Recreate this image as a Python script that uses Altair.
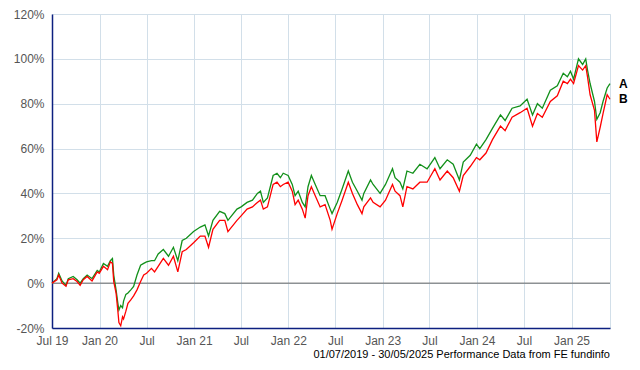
import altair as alt
import pandas as pd

# ---- data ----
dates = [
    "2019-07-01", "2019-07-20", "2019-07-27", "2019-08-09", "2019-08-24", "2019-09-02", "2019-09-21",
    "2019-10-06", "2019-10-18", "2019-10-30", "2019-11-14", "2019-12-03", "2019-12-23", "2019-12-31",
    "2020-01-16", "2020-02-01", "2020-02-12", "2020-02-20", "2020-02-25", "2020-03-05", "2020-03-12",
    "2020-03-16", "2020-03-23", "2020-03-30", "2020-04-03", "2020-04-12", "2020-04-20", "2020-05-01",
    "2020-05-12", "2020-05-25", "2020-06-08", "2020-06-20", "2020-07-01", "2020-07-20", "2020-08-01",
    "2020-08-15", "2020-09-04", "2020-09-24", "2020-10-13", "2020-10-30", "2020-11-16", "2020-12-02",
    "2020-12-30",
    "2021-01-25", "2021-02-12", "2021-02-26", "2021-03-15", "2021-04-10", "2021-04-30", "2021-05-12",
    "2021-06-16", "2021-07-02", "2021-07-25", "2021-08-15", "2021-09-03", "2021-09-15", "2021-09-26",
    "2021-10-12", "2021-11-03", "2021-11-18", "2021-12-01", "2021-12-12", "2021-12-31",
    "2022-01-16", "2022-01-27", "2022-02-08", "2022-02-24", "2022-03-07", "2022-03-18", "2022-03-31",
    "2022-04-15", "2022-05-04", "2022-05-23", "2022-06-12", "2022-06-19", "2022-07-09", "2022-07-28",
    "2022-08-21", "2022-09-06", "2022-09-25", "2022-10-13", "2022-10-20", "2022-11-15", "2022-11-25",
    "2022-12-22",
    "2023-01-12", "2023-02-08", "2023-02-18", "2023-03-09", "2023-03-20", "2023-04-05", "2023-04-28",
    "2023-05-25", "2023-06-22", "2023-07-22", "2023-08-11", "2023-09-08", "2023-10-01", "2023-10-25",
    "2023-11-09", "2023-12-06", "2023-12-30",
    "2024-01-12", "2024-02-05", "2024-03-01", "2024-04-01", "2024-04-19", "2024-05-16", "2024-06-16",
    "2024-07-13", "2024-08-03", "2024-08-22", "2024-09-10", "2024-10-11", "2024-11-07", "2024-11-30",
    "2024-12-16", "2024-12-28",
    "2025-01-09", "2025-01-28", "2025-02-13", "2025-02-25", "2025-03-04", "2025-03-14", "2025-03-31",
    "2025-04-09", "2025-04-22", "2025-05-03", "2025-05-19", "2025-05-30",
]

fund_a = [
    0, 2, 4.4, 1, -1, 2, 3, 1.5, 0, 2, 3.6, 2, 5.7, 5,
    8.8, 7.5, 10, 11, 3.6, -3, -9, -12, -10, -11, -8, -5, -4.4, -3, -1.5, 3.6, 8, 8.8, 9.5, 10, 10,
    13, 15, 12, 16, 10, 19, 20, 23,
    25, 26, 21, 28, 32, 31, 28, 33, 34, 36, 37, 40, 41, 36, 38, 48, 49, 47, 49, 48,
    44, 39, 41, 36, 34, 43, 48, 44, 39, 39, 33, 31, 36, 42, 50, 45, 41, 37, 40, 46, 44, 40,
    44, 51, 47, 45, 42, 50, 49, 53, 51, 56, 51, 55, 53, 46, 54, 57, 62,
    60, 64, 69, 75, 72.5, 78, 79, 82, 75, 80, 78, 86, 88, 93.6, 92, 94.5,
    91, 100, 97.5, 100, 95, 89, 81, 73, 76, 81, 87, 89,
]

fund_b = [
    0, 1.5, 3.6, 0, -1.4, 1.5, 2, 0.7, -1, 1.5, 3, 1, 5, 4.4,
    7.5, 6, 9.5, 8.8, 0.7, -4.4, -12.5, -17.6, -19, -15, -16, -12.5, -9, -7.5, -5.7, -3, 0.7, 3.6,
    4.4, 6.6, 5, 7.5, 11, 8, 12, 5, 14, 15, 18,
    21, 21, 16, 24, 28, 28, 23, 28, 30, 33, 34, 36, 37, 33, 34, 44, 45, 43, 44, 45,
    41, 35, 37, 33, 29, 39, 43, 39, 34, 35, 28, 24, 31, 37, 45, 40, 35, 31, 34, 38, 36, 34,
    37, 44, 41, 39, 34, 43, 42, 45, 45, 51, 46, 50, 47, 41, 48, 52, 56,
    55, 58, 64, 70, 68, 74, 76, 78, 70, 75.6, 74, 81, 83.5, 90, 89, 91,
    89, 97, 95, 97, 92, 84, 77, 63, 69.5, 75.6, 84, 82,
]

series_names = ["A", "B"]
series_colors = ["#12901a", "#ff0000"]
y_ticks = [-20, 0, 20, 40, 60, 80, 100, 120]
x_tick_months = [(2019, 7), (2020, 1), (2020, 7), (2021, 1), (2021, 7), (2022, 1), (2022, 7),
                 (2023, 1), (2023, 7), (2024, 1), (2024, 7), (2025, 1)]
footer = "01/07/2019 - 30/05/2025 Performance Data from FE fundinfo"

# ---- build tables ----
n = len(dates)
df = pd.DataFrame({
    "date": dates + dates,
    "value": fund_a + fund_b,
    "series": ["A"] * n + ["B"] * n,
})
ends = pd.DataFrame({
    "date": [dates[-1], dates[-1]],
    "value": [fund_a[-1], fund_b[-1]],
    "series": series_names,
})

W, H = 558, 314
GRID = "#d2dfe9"
NAVY = "#0d2080"
LABEL_FONT = "Liberation Sans"

x_scale = alt.Scale(
    type="utc",
    domain=[alt.DateTime(year=2019, month=7, date=1, utc=True),
            alt.DateTime(year=2025, month=5, date=30, utc=True)],
    nice=False,
)
y_scale = alt.Scale(domain=[-20, 120], nice=False, zero=False)

x_axis = alt.Axis(
    values=[alt.DateTime(year=y, month=m, date=1, utc=True) for y, m in x_tick_months],
    format="%b %y",
    labelExpr="(slice(datum.label,0,3)=='Jul' && datum.label!='Jul 19') ? 'Jul' : datum.label",
    grid=True, gridColor=GRID, gridWidth=1,
    domainColor=NAVY, domainWidth=1.5,
    ticks=False, labelFlush=False, labelOverlap=False, labelPadding=7,
    labelFont=LABEL_FONT, labelFontSize=12, labelColor="#555555", title=None,
)
y_axis = alt.Axis(
    values=y_ticks,
    labelExpr="datum.value + '%'",
    grid=True, gridColor=GRID, gridWidth=1,
    domainColor=NAVY, domainWidth=1.5,
    ticks=False, labelPadding=8,
    labelFont=LABEL_FONT, labelFontSize=12, labelColor="#555555", title=None,
)

base = alt.Chart(df)

lines = base.mark_line(strokeWidth=1.3).encode(
    x=alt.X("date:T", scale=x_scale, axis=x_axis),
    y=alt.Y("value:Q", scale=y_scale, axis=y_axis),
    color=alt.Color("series:N", scale=alt.Scale(domain=series_names, range=series_colors), legend=None),
)

zero = alt.Chart(pd.DataFrame({"v": [0]})).mark_rule(color="#666666", strokeWidth=1).encode(
    y=alt.Y("v:Q", scale=y_scale),
)

end_labels = alt.Chart(ends).mark_text(
    align="left", baseline="middle", dx=9, font=LABEL_FONT, fontSize=12, fontWeight="bold", color="black"
).encode(
    x=alt.X("date:T", scale=x_scale),
    y=alt.Y("value:Q", scale=y_scale),
    text="series:N",
)

foot = alt.Chart(pd.DataFrame({"t": [footer]})).mark_text(
    align="right", baseline="middle", font=LABEL_FONT, fontSize=11, color="black"
).encode(
    x=alt.value(W), y=alt.value(340.5), text="t:N",
)

chart = alt.layer(zero, lines, end_labels, foot).properties(
    width=W, height=H,
    autosize=alt.AutoSizeParams(type="none"),
    padding={"left": 44, "top": 6, "right": 22, "bottom": 34},
    background="white",
).configure_view(stroke=GRID, strokeWidth=1)

chart.save("out.html", embed_options={"renderer": "svg", "actions": False})
